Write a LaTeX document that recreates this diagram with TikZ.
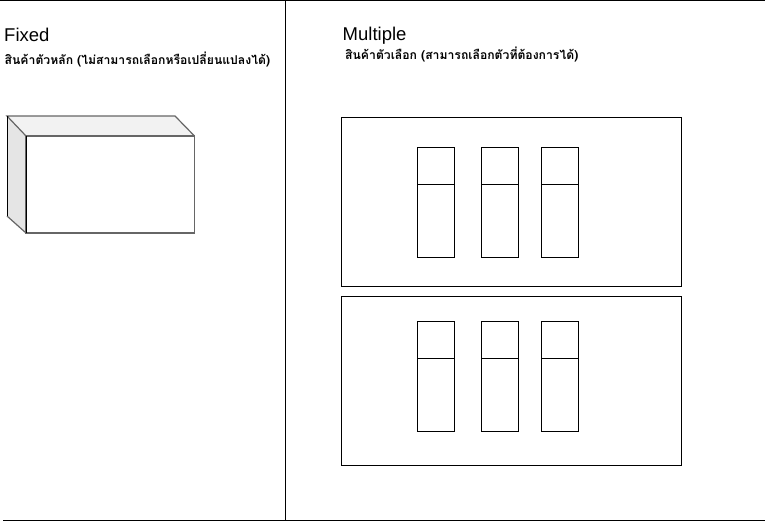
\documentclass[tikz,border=0pt]{standalone}
\usepackage{fontspec}
\setmainfont{Liberation Sans}
\newfontfamily\thaifont[Script=Thai]{Loma}
\tikzset{
  rule/.style={draw=black, line width=1pt},
  panel/.style={draw=black, line width=1pt},
  slot/.style={draw=black, line width=0.9pt},
  boxedge/.style={draw=black!60, line width=1.2pt, line join=miter},
}
\begin{document}
\begin{tikzpicture}[x=1pt,y=1pt]
\tikzstyle{every node}+=[inner sep=0pt]
\useasboundingbox (0,0) rectangle (767,-522);
\draw [rule] (0,-0.8) -- (765,-0.8);
\draw [rule] (3,-520) -- (765,-520);
\draw [rule] (285.5,-0.8) -- (285.5,-520);
\node [anchor=base west, font=\fontsize{18.5}{20}\selectfont] (fixed) at (4,-41.7) {Fixed};
\node [anchor=base west, font=\thaifont\bfseries\fontsize{12.2}{14}\selectfont] (fixedsub) at (4.5,-64) {สินค้าตัวหลัก (ไม่สามารถเลือกหรือเปลี่ยนแปลงได้)};
\node [anchor=base west, font=\fontsize{18.5}{20}\selectfont] (multiple) at (342.5,-40.7) {Multiple};
\node [anchor=base west, font=\thaifont\bfseries\fontsize{12.2}{14}\selectfont] (multiplesub) at (345,-59) {สินค้าตัวเลือก (สามารถเลือกตัวที่ต้องการได้)};
\fill [black!5] (7,-116) -- (175,-116) -- (194.5,-136) -- (26,-136) -- cycle;
\fill [black!10] (7,-116) -- (26,-136) -- (26,-233) -- (7,-216) -- cycle;
\draw [boxedge] (26,-136) -- (7,-116) -- (175,-116) -- (194.5,-136);
\draw [boxedge] (7,-216) -- (26,-233);
\draw [black, line width=1pt] (7,-116) -- (7,-216);
\draw [boxedge] (26,-136) rectangle (194.5,-233);
\draw [black, line width=1pt] (26,-136) -- (26,-233);
\draw [panel] (341,-117) rectangle (681.5,-286.5);
\draw [panel] (341,-296) rectangle (681.5,-465);
\foreach \y in {147,321}
  \foreach \x in {417.5,481.5,541.5} {
    \draw [slot] (\x,-\y) rectangle (\x+37,-\y-110);
    \draw [slot] (\x,-\y-37) -- (\x+37,-\y-37);
  }
\end{tikzpicture}
\end{document}
